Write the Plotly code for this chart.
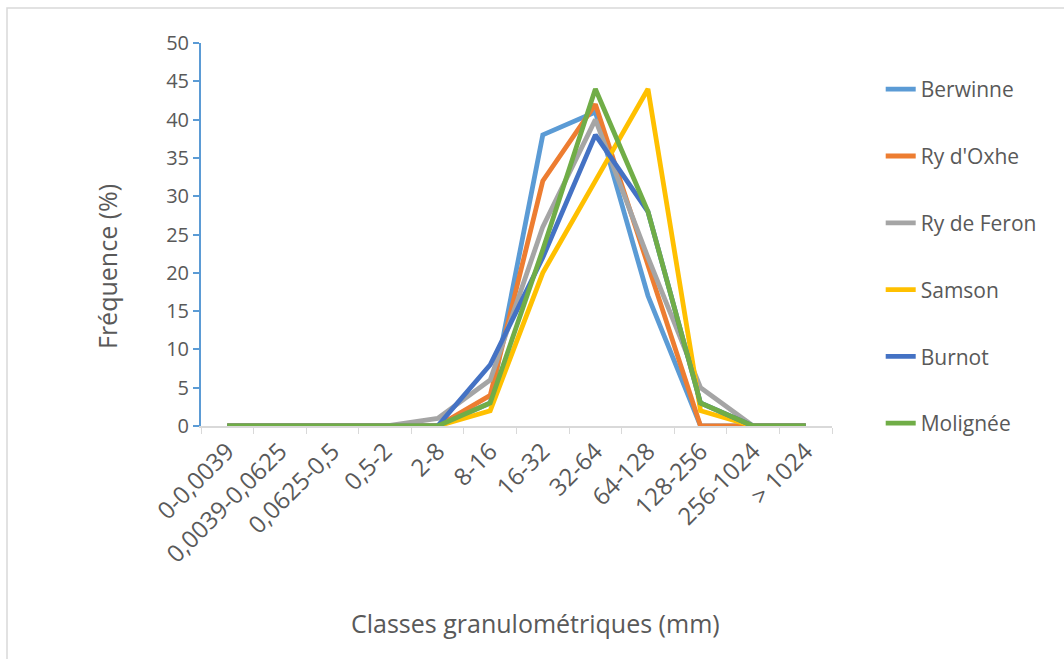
import plotly.graph_objects as go

categories = ["0-0,0039", "0,0039-0,0625", "0,0625-0,5", "0,5-2", "2-8", "8-16",
              "16-32", "32-64", "64-128", "128-256", "256-1024", "> 1024"]

berwinne   = [0, 0, 0, 0, 0, 3, 38, 41, 17, 0, 0, 0]
ry_doxhe   = [0, 0, 0, 0, 0, 4, 32, 42, 21, 0, 0, 0]
ry_feron   = [0, 0, 0, 0, 1, 6, 26, 40, 22, 5, 0, 0]
samson     = [0, 0, 0, 0, 0, 2, 20, 32, 44, 2, 0, 0]
burnot     = [0, 0, 0, 0, 0, 8, 22, 38, 28, 3, 0, 0]
molignee   = [0, 0, 0, 0, 0, 3, 23, 44, 28, 3, 0, 0]

series_names = ["Berwinne", "Ry d'Oxhe", "Ry de Feron", "Samson", "Burnot", "Molignée"]
series_values = [berwinne, ry_doxhe, ry_feron, samson, burnot, molignee]
colors = ["#5B9BD5", "#ED7D31", "#A5A5A5", "#FFC000", "#4472C4", "#70AD47"]

FONT = "Open Sans"
TXT = "#595959"

PW, PH = 631, 383  # plot area size in px

fig = go.Figure()
for i, (name, vals, col) in enumerate(zip(series_names, series_values, colors)):
    fig.add_trace(go.Scatter(
        x=categories, y=vals, name=name, mode="lines",
        line=dict(color=col, width=4.8, shape="linear"),
        legendgroup=f"g{i}",
    ))

fig.update_layout(
    width=1064, height=659,
    margin=dict(l=201, r=232, t=43, b=233),
    paper_bgcolor="white", plot_bgcolor="white",
    font=dict(family=FONT, color=TXT, size=20),
    showlegend=True,
    legend=dict(
        x=1.055 + 14 / PW, y=0.932, xanchor="left", yanchor="top",
        font=dict(family=FONT, size=21, color=TXT),
        tracegroupgap=36.5, itemwidth=30, maxheight=600,
        bgcolor="rgba(0,0,0,0)",
    ),
    xaxis=dict(
        type="category", tickangle=-45, tickson="boundaries",
        showline=True, linecolor="#D9D9D9", linewidth=1.5,
        ticks="outside", ticklen=6, tickcolor="#D9D9D9",
        showgrid=False, zeroline=False,
        tickfont=dict(family=FONT, size=24, color=TXT),
        range=[-0.5, 11.5],
    ),
    yaxis=dict(
        range=[0, 50], dtick=5, tick0=0,
        showline=True, linecolor="#5B9BD5", linewidth=2,
        ticks="outside", ticklen=6, tickcolor="#5B9BD5", tickwidth=2,
        showgrid=False, zeroline=False,
        tickfont=dict(family=FONT, size=20, color=TXT),
    ),
    annotations=[
        dict(text="Classes granulométriques (mm)", xref="paper", yref="paper",
             x=(535 - 201) / PW, y=-(623 - 426) / PH, xanchor="center", yanchor="middle",
             showarrow=False, font=dict(family=FONT, size=25, color=TXT)),
        dict(text="Fréquence (%)", xref="paper", yref="paper", textangle=-90,
             x=-(201 - 107) / PW, y=(426 - 266) / PH, xanchor="center", yanchor="middle",
             showarrow=False, font=dict(family=FONT, size=25, color=TXT)),
    ],
    shapes=[dict(type="rect", xref="paper", yref="paper",
                 x0=-194 / PW, x1=1.5, y0=-2, y1=1 + 35 / PH,
                 line=dict(color="#D9D9D9", width=1.5), layer="below")],
)

fig.write_html("out.html")
